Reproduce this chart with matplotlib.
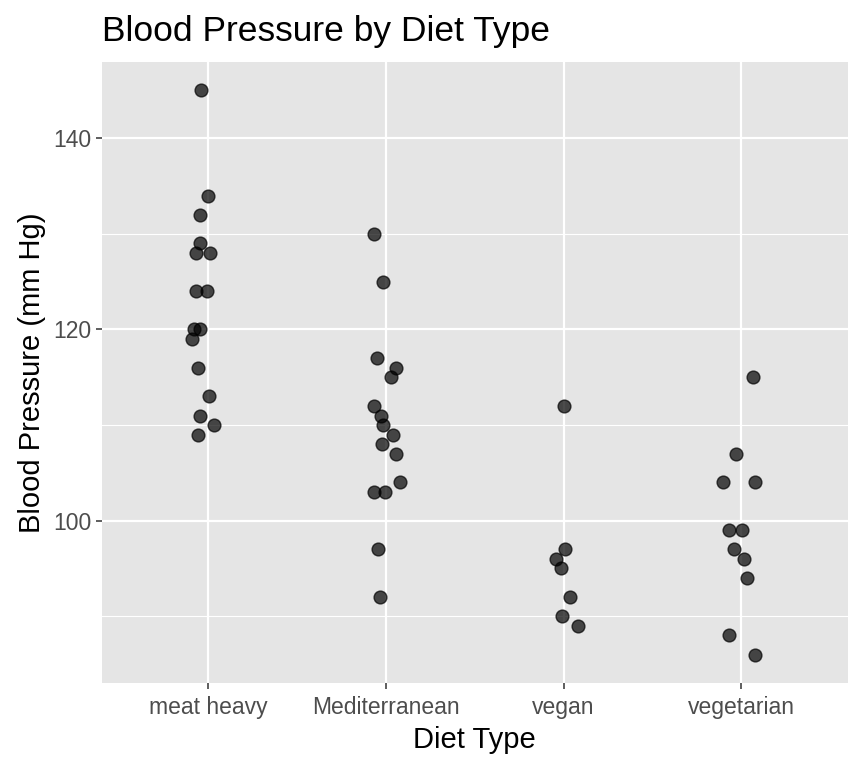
import matplotlib
matplotlib.use("Agg")
import matplotlib.pyplot as plt

plt.rcParams['font.family'] = ['Liberation Sans', 'DejaVu Sans']

# diet categories, in axis order
diets = ['meat heavy', 'Mediterranean', 'vegan', 'vegetarian']

# blood pressure readings per diet (mm Hg)
meat_bp = [145, 134, 132, 129, 128, 128, 124, 124, 120, 120, 119, 116, 113, 111, 110, 109]
med_bp = [130, 125, 117, 116, 115, 112, 111, 110, 109, 108, 107, 104, 103, 103, 97, 92]
vegan_bp = [112, 97, 96, 95, 92, 90, 89]
veg_bp = [115, 107, 104, 104, 99, 99, 97, 96, 94, 88, 86]

# horizontal jitter (category units)
meat_jit = [-0.04, 0.0, -0.045, -0.05, -0.07, 0.01, -0.07, -0.01, -0.08, -0.05, -0.09, -0.06, 0.005, -0.045, 0.03, -0.06]
med_jit = [-0.07, -0.015, -0.05, 0.055, 0.03, -0.07, -0.03, -0.015, 0.04, -0.02, 0.055, 0.08, -0.07, -0.005, -0.045, -0.035]
vegan_jit = [0.0, 0.01, -0.045, -0.015, 0.035, -0.01, 0.08]
veg_jit = [0.07, -0.03, -0.1, 0.08, -0.07, 0.005, -0.04, 0.015, 0.035, -0.07, 0.08]

groups = [(meat_bp, meat_jit), (med_bp, med_jit), (vegan_bp, vegan_jit), (veg_bp, veg_jit)]

fig = plt.figure(figsize=(8.64, 7.68), dpi=100)
ax = fig.add_axes([0.118, 0.111, 0.863, 0.808])
ax.set_facecolor('#E5E5E5')

for i, (bp, jit) in enumerate(groups):
    xs = [i + 1 + j for j in jit]
    ax.scatter(xs, bp, s=85, color='black', alpha=0.7, linewidths=1.0, edgecolors='black', zorder=3)

ax.set_xlim(0.4, 4.6)
ax.set_ylim(83.05, 147.95)
ax.set_xticks(range(1, 5))
ax.set_xticklabels(diets)
ax.set_yticks([100, 120, 140])
ax.set_yticks([90, 110, 130], minor=True)

ax.grid(True, which='major', color='white', linewidth=1.6, zorder=0)
ax.grid(True, which='minor', axis='y', color='white', linewidth=0.8, zorder=0)
ax.set_axisbelow(True)
for s in ax.spines.values():
    s.set_visible(False)

ax.tick_params(axis='both', which='major', length=4.5, color='#333333', labelsize=16.5,
               labelcolor='#4D4D4D', width=1.1, pad=3)
ax.tick_params(axis='x', which='major', pad=5)
ax.tick_params(axis='y', which='minor', length=0)

ax.set_xlabel('Diet Type', fontsize=21, labelpad=5)
ax.set_ylabel('Blood Pressure (mm Hg)', fontsize=21, labelpad=5)
ax.set_title('Blood Pressure by Diet Type', fontsize=25.5, loc='left', pad=15)

fig.savefig('out.png', dpi=100)
